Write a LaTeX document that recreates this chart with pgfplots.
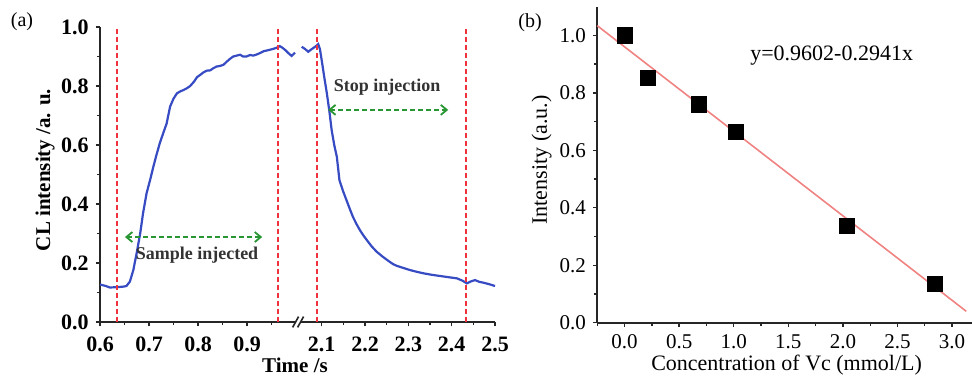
\documentclass[border=0pt]{standalone}
\usepackage{pgfplots}
\pgfplotsset{compat=1.18}
\usepackage{fontspec}
\setmainfont{Liberation Serif}
\usetikzlibrary{arrows.meta}
\definecolor{cblue}{RGB}{55,75,195}
\definecolor{cred}{RGB}{240,50,60}
\definecolor{cgreen}{RGB}{40,150,50}
\definecolor{cpink}{RGB}{240,130,130}

\pgfplotstableread{
x y
0.600 0.127
0.612 0.122
0.620 0.117
0.635 0.118
0.648 0.120
0.654 0.122
0.661 0.137
0.668 0.176
0.675 0.235
0.682 0.300
0.688 0.370
0.695 0.436
0.702 0.480
0.709 0.527
0.715 0.565
0.722 0.606
0.729 0.640
0.736 0.673
0.743 0.730
0.750 0.757
0.757 0.775
0.764 0.782
0.770 0.786
0.777 0.792
0.784 0.800
0.792 0.815
0.798 0.830
0.804 0.837
0.811 0.846
0.818 0.852
0.825 0.853
0.831 0.860
0.838 0.866
0.845 0.868
0.852 0.872
0.859 0.883
0.866 0.893
0.872 0.900
0.879 0.903
0.886 0.906
0.892 0.900
0.899 0.900
0.906 0.905
0.913 0.903
0.920 0.907
0.927 0.912
0.934 0.918
0.940 0.920
0.947 0.923
0.954 0.926
0.961 0.930
0.967 0.935
0.972 0.930
0.978 0.922
0.984 0.912
0.991 0.902
0.998 0.913
}\tableleft

\pgfplotstableread{
x y
2.054 0.933
2.062 0.925
2.069 0.916
2.077 0.925
2.085 0.933
2.092 0.942
2.096 0.925
2.100 0.888
2.106 0.830
2.112 0.775
2.118 0.712
2.123 0.651
2.129 0.600
2.135 0.560
2.141 0.481
2.149 0.445
2.157 0.414
2.165 0.383
2.172 0.357
2.180 0.333
2.188 0.312
2.196 0.294
2.204 0.278
2.215 0.257
2.227 0.238
2.242 0.220
2.256 0.205
2.265 0.196
2.274 0.190
2.289 0.183
2.304 0.176
2.320 0.170
2.335 0.165
2.354 0.160
2.373 0.156
2.392 0.152
2.412 0.148
2.425 0.140
2.435 0.131
2.445 0.138
2.454 0.142
2.464 0.136
2.474 0.133
2.487 0.128
2.500 0.122
}\tableright

\pgfplotstableread{
x y
0.00 1.000
0.21 0.853
0.68 0.760
1.02 0.664
2.04 0.337
2.84 0.134
}\tableb

\begin{document}
\begin{tikzpicture}
\useasboundingbox (0pt,0pt) rectangle (486pt,192pt);

\pgfplotsset{
  myaxis/.style={
    scale only axis,
    axis line style={line width=0.9pt,black!85},
    tick style={line width=0.7pt,black!85},
    tick align=outside,
    major tick length=2.2pt,
    minor tick length=1.6pt,
    /pgf/number format/assume math mode=true,
    /pgf/number format/fixed,
    /pgf/number format/fixed zerofill,
    /pgf/number format/precision=1,
    clip=false,
  }
}

% ---------- panel (a), left part ----------
\begin{axis}[myaxis,
  at={(50pt,31pt)}, anchor=south west,
  width=98pt, height=147.5pt,
  xmin=0.6, xmax=1.0, ymin=0, ymax=1.0,
  axis x line*=bottom, axis y line*=left,
  xtick={0.6,0.7,0.8,0.9}, minor xtick={0.65,0.75,0.85,0.95},
  ytick={0,0.2,...,1.0}, minor ytick={0.1,0.3,0.5,0.7,0.9},
  tick label style={font=\fontsize{11}{12}\selectfont\bfseries},
  xticklabel style={yshift=-1.5pt},
]
\addplot[cblue, line width=1.1pt] table[x=x,y=y]{\tableleft};
\addplot[cred, line width=1pt, dash pattern=on 2.5pt off 1.5pt] coordinates {(0.635,0) (0.635,1.0)};
\addplot[cred, line width=1pt, dash pattern=on 2.5pt off 1.5pt] coordinates {(0.963,0) (0.963,1.0)};
\addplot[cgreen, line width=0.9pt, dash pattern=on 2.5pt off 1.5pt, {Straight Barb[length=3pt,width=5pt]}-{Straight Barb[length=3pt,width=5pt]}] coordinates {(0.651,0.288) (0.931,0.288)};
\node[font=\fontsize{9}{10}\selectfont\bfseries, text=black!80] at (axis cs:0.798,0.225) {Sample injected};
\end{axis}

% ---------- panel (a), right part ----------
\begin{axis}[myaxis,
  at={(150pt,31pt)}, anchor=south west,
  width=97.5pt, height=147.5pt,
  xmin=2.05, xmax=2.5, ymin=0, ymax=1.0,
  axis x line*=bottom, axis y line=none,
  xtick={2.1,2.2,2.3,2.4,2.5}, minor xtick={2.15,2.25,2.35,2.45},
  tick label style={font=\fontsize{11}{12}\selectfont\bfseries},
  xticklabel style={yshift=-1.5pt},
]
\addplot[cblue, line width=1.1pt] table[x=x,y=y]{\tableright};
\addplot[cred, line width=1pt, dash pattern=on 2.5pt off 1.5pt] coordinates {(2.089,0) (2.089,1.0)};
\addplot[cred, line width=1pt, dash pattern=on 2.5pt off 1.5pt] coordinates {(2.433,0) (2.433,1.0)};
\addplot[cgreen, line width=0.9pt, dash pattern=on 2.5pt off 1.5pt, {Straight Barb[length=3pt,width=5pt]}-{Straight Barb[length=3pt,width=5pt]}] coordinates {(2.115,0.719) (2.392,0.719)};
\node[font=\fontsize{9}{10}\selectfont\bfseries, text=black!80] at (axis cs:2.251,0.797) {Stop injection};
\end{axis}

% axis break marks
\draw[line width=0.8pt, black!85] (146.3pt,28.3pt) -- (149.3pt,33.7pt);
\draw[line width=0.8pt, black!85] (148.8pt,28.3pt) -- (151.8pt,33.7pt);

% labels panel (a)
\node[font=\fontsize{10.5}{12}\selectfont\bfseries] at (147.5pt,9.5pt) {Time /s};
\node[font=\fontsize{10.5}{12}\selectfont\bfseries, rotate=90] at (22.5pt,107pt) {CL intensity /a. u.};
\node[font=\fontsize{10}{12}\selectfont] at (11pt,181pt) {(a)};

% ---------- panel (b) ----------
\begin{axis}[myaxis,
  at={(298.65pt,30.65pt)}, anchor=south west,
  width=187.2pt, height=158pt,
  xmin=-0.25, xmax=3.18, ymin=0, ymax=1.1,
  axis x line*=bottom, axis y line*=left,
  xtick={0,0.5,...,3.0}, minor xtick={-0.25,0.25,0.75,1.25,1.75,2.25,2.75},
  ytick={0,0.2,...,1.0}, minor ytick={0.1,0.3,0.5,0.7,0.9},
  tick label style={font=\fontsize{10.5}{12}\selectfont},
]
\addplot[cpink, line width=0.8pt] coordinates {(-0.25,1.03372) (3.13,0.03967)};
\addplot[only marks, mark=square*, mark size=3.8pt, mark options={fill=black, draw=black}] table[x=x,y=y]{\tableb};
\node[font=\fontsize{11}{12}\selectfont] at (axis cs:1.897,0.93) {y=0.9602-0.2941x};
\end{axis}

\node[font=\fontsize{11}{12}\selectfont] at (393.3pt,9.6pt) {Concentration of Vc (mmol/L)};
\node[font=\fontsize{11}{12}\selectfont, rotate=90] at (270.8pt,112pt) {Intensity (a.u.)};
\node[font=\fontsize{10}{12}\selectfont] at (265pt,180.5pt) {(b)};

\end{tikzpicture}
\end{document}
